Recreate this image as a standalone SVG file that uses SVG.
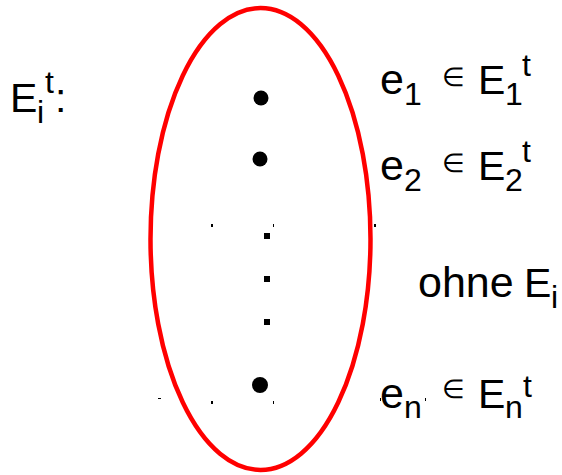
<svg xmlns="http://www.w3.org/2000/svg" width="562" height="475" viewBox="0 0 562 475">
<style>
text{font-family:"Liberation Sans",Arial,sans-serif;fill:#000}
.m{font-size:43px}
.c{font-size:41px}
.s{font-size:32px}
.el{font-size:26px}
.tk{fill:#000}
</style>
<rect width="562" height="475" fill="#fff"/>
<g id="set">
<ellipse cx="260.5" cy="239" rx="110" ry="231" fill="none" stroke="#ff0000" stroke-width="4.5"/>
</g>
<g id="label-Eit">
<text class="c" x="10" y="112">E</text>
<text class="s" x="37" y="123">i</text>
<text class="s" x="45" y="93">t</text>
<text class="c" x="55" y="112">:</text>
</g>
<g id="points">
<circle cx="261" cy="98" r="7.5"/>
<circle cx="260" cy="159" r="7.5"/>
<circle cx="260" cy="385" r="8"/>
<rect x="264" y="233" width="6" height="6"/>
<rect x="264" y="276" width="6" height="6"/>
<rect x="264" y="319" width="6" height="6"/>
</g>
<g id="ticks" class="tk">
<rect x="211" y="224" width="2" height="3"/>
<rect x="273" y="224" width="1" height="3"/>
<rect x="374" y="224" width="2" height="3"/>
<rect x="158" y="398" width="3" height="1"/>
<rect x="211" y="401" width="2" height="3"/>
<rect x="273" y="401" width="1" height="3"/>
<rect x="380" y="398" width="1" height="3"/>
<rect x="425" y="398" width="1" height="3"/>
</g>
<g id="row-e1">
<text class="m" x="380" y="94">e</text>
<text class="s" x="404" y="105">1</text>
<text class="el" x="442" y="86">∈</text>
<text class="c" x="478" y="94">E</text>
<text class="s" x="505" y="105">1</text>
<text class="s" x="522" y="76">t</text>
</g>
<g id="row-e2">
<text class="m" x="380" y="180">e</text>
<text class="s" x="404" y="191">2</text>
<text class="el" x="442" y="172">∈</text>
<text class="c" x="478" y="180">E</text>
<text class="s" x="505" y="191">2</text>
<text class="s" x="522" y="162">t</text>
</g>
<g id="row-ohne">
<text class="m" x="418" y="297">ohne</text>
<text class="c" x="524" y="297">E</text>
<text class="s" x="551" y="308">i</text>
</g>
<g id="row-en">
<text class="m" x="380" y="408">e</text>
<text class="s" x="404" y="418">n</text>
<text class="el" x="442" y="398">∈</text>
<text class="c" x="478" y="408">E</text>
<text class="s" x="505" y="418">n</text>
<text class="s" x="523" y="397">t</text>
</g>
</svg>
